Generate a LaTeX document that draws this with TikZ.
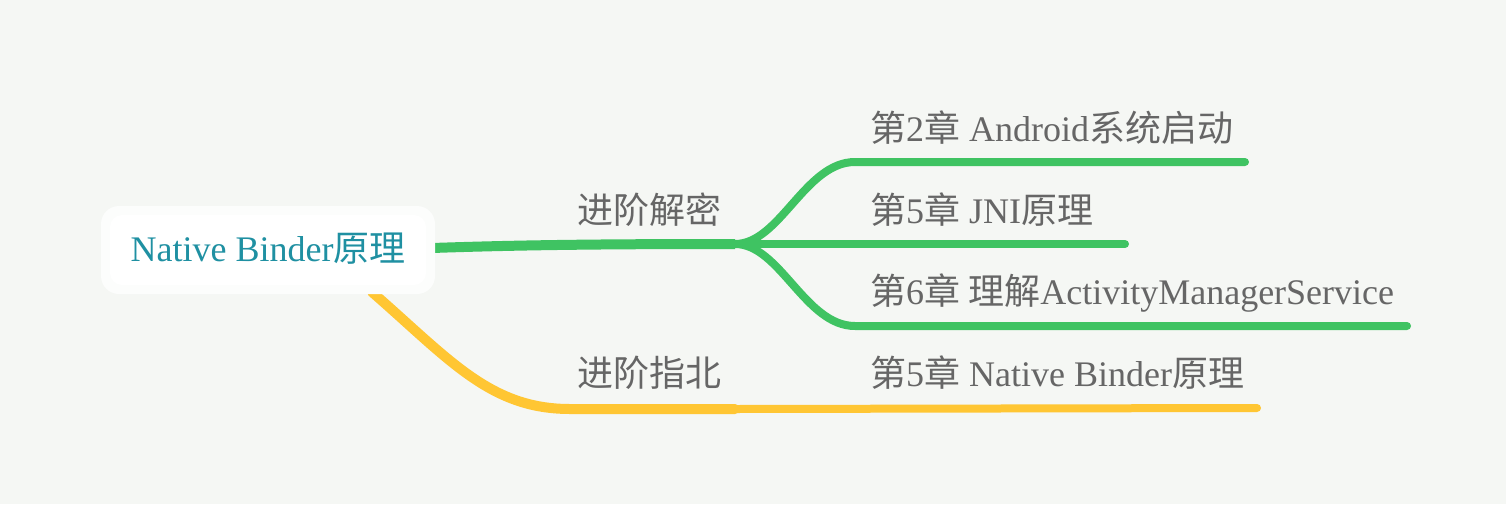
\documentclass[tikz,border=0pt]{standalone}
\usepackage{fontspec}
\setmainfont{Liberation Serif}
\newfontfamily\cjkfont{Noto Sans CJK SC}
\newcommand\zhtxt[1]{{\cjkfont #1}}
\definecolor{bgc}{HTML}{F5F7F4}
\definecolor{grn}{HTML}{3FC362}
\definecolor{ylw}{HTML}{FFC633}
\definecolor{txtg}{HTML}{666666}
\definecolor{roottxt}{HTML}{1F90A2}
\tikzset{
  lbl/.style={anchor=base west, inner sep=0pt, text=txtg, font=\fontsize{36}{38}\selectfont},
  gline/.style={draw=grn, line width=8, line cap=round},
  yline/.style={draw=ylw, line width=8, line cap=round},
}
\begin{document}
\begin{tikzpicture}[x=1pt,y=-1pt]
\fill[bgc] (0,0) rectangle (1506,504);
\useasboundingbox (0,0) rectangle (1506,504);
% coordinates
\coordinate (rootE) at (432,248);
\coordinate (rootS) at (372,292);
\coordinate (j1) at (735,244);
\coordinate (j2) at (735,409);
\coordinate (e1) at (1245,162);
\coordinate (e2) at (1125,244);
\coordinate (e3) at (1407,326);
\coordinate (e4) at (1257,408);
% yellow branch
\draw[yline, line width=10] (rootS) .. controls (450,360) and (490,409) .. (570,409) -- (j2);
\draw[yline] (j2) -- (e4);
% green branch
\draw[gline, line width=10, line cap=butt] (rootE) .. controls (520,245) and (600,244) .. (j1);
\draw[gline] (j1) .. controls (780,244) and (805,162) .. (855,162) -- (e1);
\draw[gline] (j1) -- (e2);
\draw[gline] (j1) .. controls (780,244) and (805,326) .. (855,326) -- (e3);
% root box
\fill[white!75!bgc, rounded corners=18] (101,206) rectangle (435,294);
\fill[white, rounded corners=12] (110,215) rectangle (426,285);
\node[anchor=base, inner sep=0pt, text=roottxt, font=\fontsize{36}{38}\selectfont] (root) at (268,261) {Native Binder\zhtxt{原理}};
% children
\node[lbl] (c1) at (577,223) {\zhtxt{进阶解密}};
\node[lbl] (c2) at (577,386) {\zhtxt{进阶指北}};
% leaves
\node[lbl] (l1) at (870,141) {\zhtxt{第}2\zhtxt{章} Android\zhtxt{系统启动}};
\node[lbl] (l2) at (870,223) {\zhtxt{第}5\zhtxt{章} JNI\zhtxt{原理}};
\node[lbl] (l3) at (870,304) {\zhtxt{第}6\zhtxt{章 理解}ActivityManagerService};
\node[lbl] (l4) at (870,386) {\zhtxt{第}5\zhtxt{章} Native Binder\zhtxt{原理}};
\end{tikzpicture}
\end{document}
